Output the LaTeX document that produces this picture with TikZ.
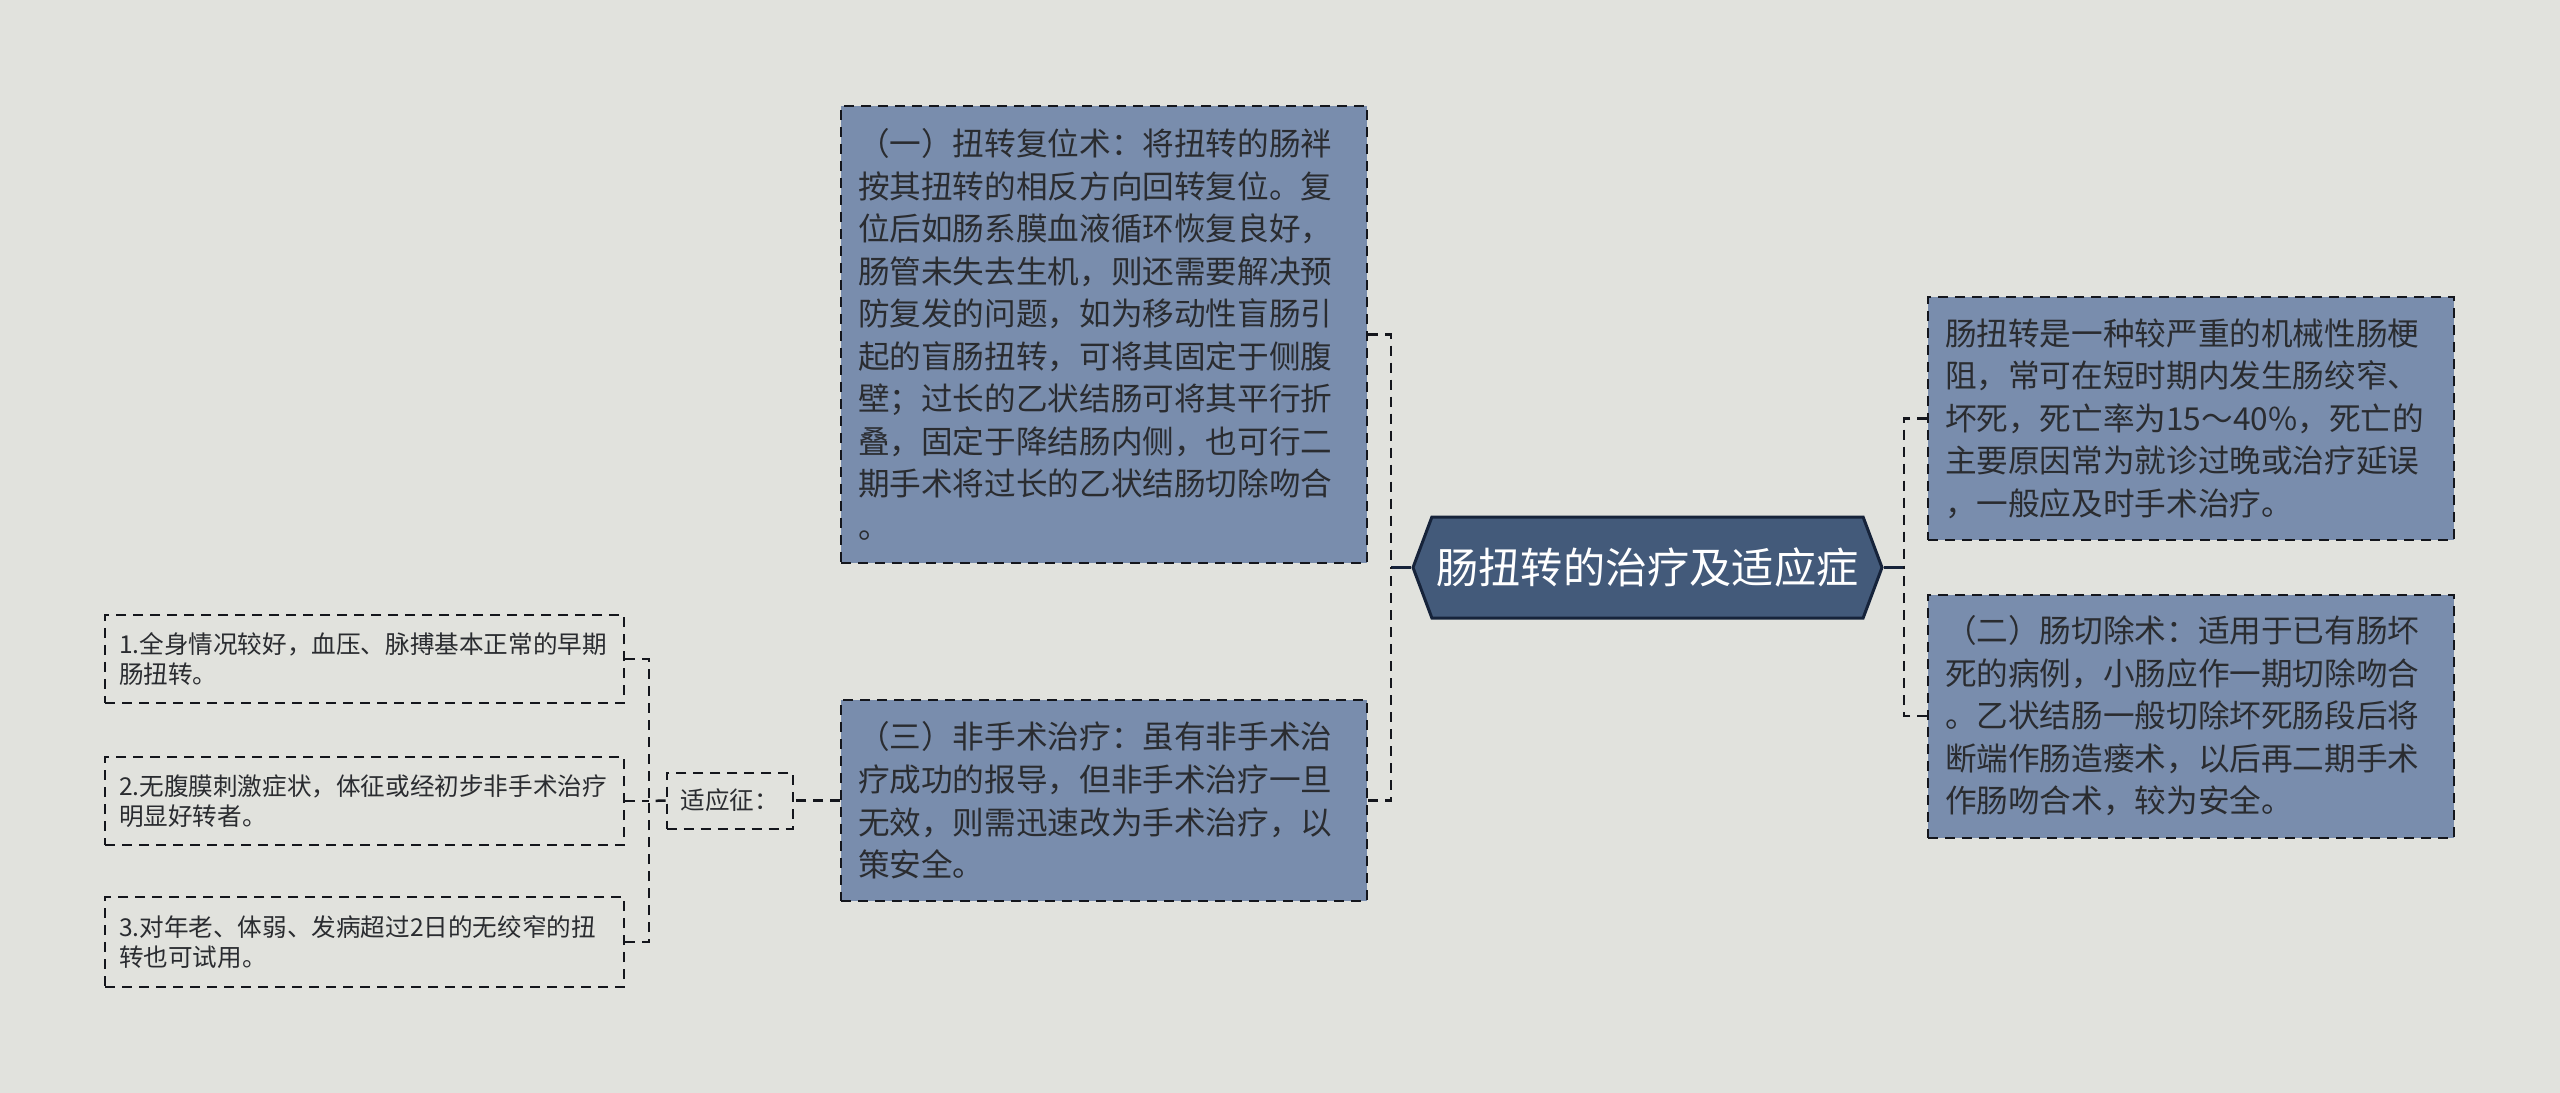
\documentclass[tikz,border=0pt]{standalone}
\usepackage{fontspec}
\setmainfont{Noto Sans CJK SC}
\usetikzlibrary{shapes.symbols,positioning}

\definecolor{bgcol}{HTML}{E1E2DD}
\definecolor{boxfill}{HTML}{798DAD}
\definecolor{rootfill}{HTML}{435A7A}
\definecolor{rootline}{HTML}{16233A}
\definecolor{inkc}{HTML}{2A2C30}
\definecolor{linec}{HTML}{14161C}

\tikzset{
  topic/.style={draw=linec, line width=0.2mm, dash pattern=on 1mm off 0.7mm, fill=boxfill, text=inkc,
    font=\fontsize{9pt}{12.1pt}\selectfont, text width=49.2mm, align=left, inner xsep=1.7mm, inner ysep=0mm},
  point/.style={draw=linec, line width=0.2mm, dash pattern=on 1mm off 0.7mm, text=inkc,
    font=\fontsize{7pt}{8.5pt}\selectfont, text width=49.1mm, align=left, inner xsep=1.4mm, inner ysep=0mm,
    minimum height=8.8mm},
  tag/.style={draw=linec, line width=0.2mm, dash pattern=on 1mm off 0.7mm, text=inkc,
    font=\fontsize{7pt}{8.5pt}\selectfont, inner xsep=1.4mm, inner ysep=0mm, minimum height=5.6mm},
  link/.style={draw=linec, line width=0.25mm, dash pattern=on 1mm off 0.7mm},
  trunk/.style={draw=rootline, line width=0.3mm},
}

\begin{document}
\begin{tikzpicture}[x=0.1mm, y=-0.1mm]
    \fill[bgcol] (0,0) rectangle (2560,1093);
    \useasboundingbox (0,0) rectangle (2560,1093);

    % centre topic
    \node[signal, signal to=west and east, signal pointer angle=139, fill=rootfill, draw=rootline,
        line width=0.3mm, text=white, font=\fontsize{12pt}{14pt}\selectfont,
        minimum width=46.9mm, minimum height=10.1mm, inner sep=0pt] (root) at (1647.5,567.5) {肠扭转的治疗及适应症};

    % left branch
    \node[topic, minimum height=45.7mm, anchor=east] (fuwei) at (1368,334.5) {（一）扭转复位术：将扭转的肠袢\\按其扭转的相反方向回转复位。复\\位后如肠系膜血液循环恢复良好，\\肠管未失去生机，则还需要解决预\\防复发的问题，如为移动性盲肠引\\起的盲肠扭转，可将其固定于侧腹\\壁；过长的乙状结肠可将其平行折\\叠，固定于降结肠内侧，也可行二\\期手术将过长的乙状结肠切除吻合\\。};
    \node[topic, minimum height=20.1mm, anchor=east] (feishou) at (1368,800.5) {（三）非手术治疗：虽有非手术治\\疗成功的报导，但非手术治疗一旦\\无效，则需迅速改为手术治疗，以\\策安全。};

    % right branch
    \node[topic, minimum height=24.3mm, anchor=west] (gengzu) at (1927,418.5) {肠扭转是一种较严重的机械性肠梗\\阻，常可在短时期内发生肠绞窄、\\坏死，死亡率为15～40\%，死亡的\\主要原因常为就诊过晚或治疗延误\\，一般应及时手术治疗。};
    \node[topic, minimum height=24.3mm, anchor=west] (qiechu) at (1927,716) {（二）肠切除术：适用于已有肠坏\\死的病例，小肠应作一期切除吻合\\。乙状结肠一般切除坏死肠段后将\\断端作肠造瘘术，以后再二期手术\\作肠吻合术，较为安全。};

    % indications
    \node[tag, left=4.6mm of feishou] (shiying) {适应征：};
    \node[point, anchor=east] (tiao1) at (625,659) {1.全身情况较好，血压、脉搏基本正常的早期\\肠扭转。};
    \node[point, anchor=east] (tiao2) at (625,801) {2.无腹膜刺激症状，体征或经初步非手术治疗\\明显好转者。};
    \node[point, anchor=east, minimum height=9mm] (tiao3) at (625,942) {3.对年老、体弱、发病超过2日的无绞窄的扭\\转也可试用。};

    % joints
    \coordinate (zuo) at (1391,567.5);
    \coordinate (you) at (1904,567.5);
    \coordinate (shi) at (649,801);

    \draw[trunk] (root.west) -- (zuo);
    \draw[trunk] (root.east) -- (you);
    \draw[link] (fuwei.east) -| (zuo);
    \draw[link] (feishou.east) -| (zuo);
    \draw[link] (gengzu.west) -| (you);
    \draw[link] (qiechu.west) -| (you);
    \draw[link] (feishou.west) -- (shiying.east);
    \draw[link] (shiying.west) -- (shi);
    \draw[link] (tiao1.east) -| (shi);
    \draw[link] (tiao2.east) -| (shi);
    \draw[link] (tiao3.east) -| (shi);
\end{tikzpicture}
\end{document}
